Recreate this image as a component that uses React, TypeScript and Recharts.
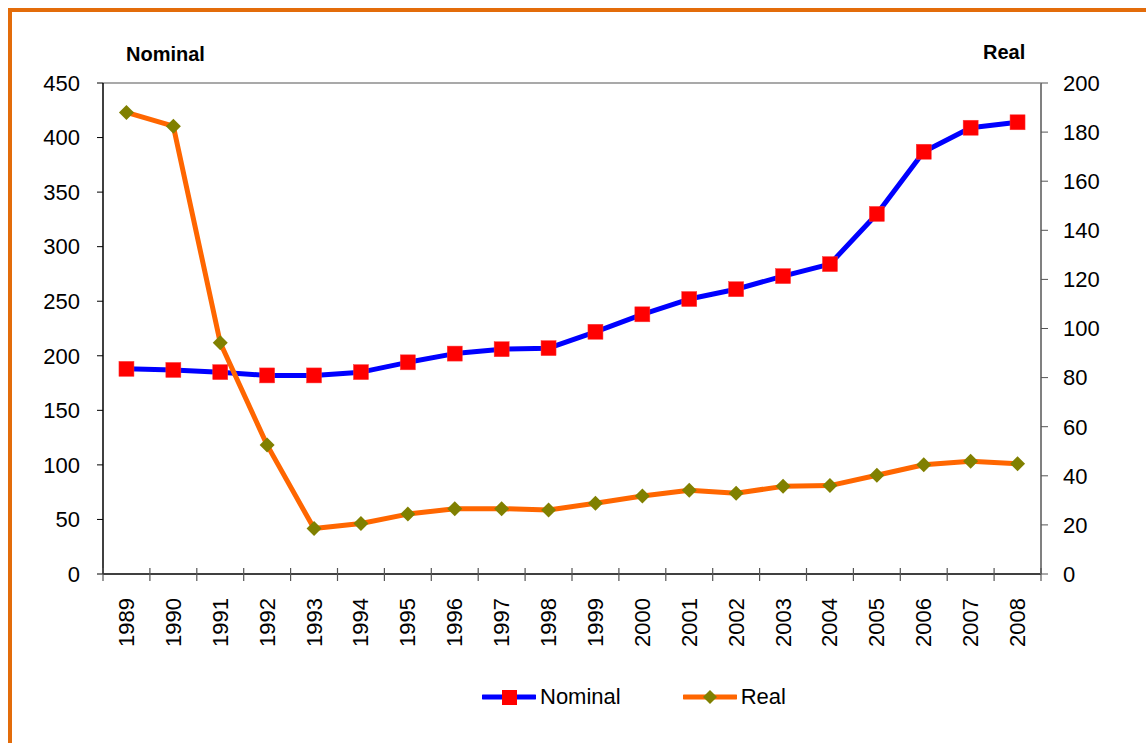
import React from 'react';
import { LineChart, Line, XAxis, YAxis, Legend, ReferenceLine } from 'recharts';

const years = [
  '1989', '1990', '1991', '1992', '1993', '1994', '1995', '1996', '1997', '1998',
  '1999', '2000', '2001', '2002', '2003', '2004', '2005', '2006', '2007', '2008',
];
const nominal = [188, 187, 185, 182, 182, 185, 194, 202, 206, 207, 222, 238, 252, 261, 273, 284, 330, 387, 409, 414];
const real = [188, 182.4, 94.2, 52.5, 18.5, 20.6, 24.4, 26.6, 26.6, 26.1, 28.8, 31.8, 34.1, 32.9, 35.7, 36, 40.2, 44.5, 45.9, 44.9];
const leftTicks = [0, 50, 100, 150, 200, 250, 300, 350, 400, 450];
const rightTicks = [0, 20, 40, 60, 80, 100, 120, 140, 160, 180, 200];

const data = years.map((year, i) => ({ year, Nominal: nominal[i], Real: real[i] }));

const FONT = '"Liberation Sans", Arial, sans-serif';
const W = 1146;
const H = 743;

function SquareDot(props: any) {
  const { cx, cy } = props;
  if (cx == null || cy == null) return null;
  return <rect x={cx - 7.5} y={cy - 7.5} width={15} height={15} fill="#ff0000" stroke="#ff3b3b" strokeWidth={0.5} />;
}

function DiamondDot(props: any) {
  const { cx, cy } = props;
  if (cx == null || cy == null) return null;
  const r = 7.5;
  return <polygon points={`${cx},${cy - r} ${cx + r},${cy} ${cx},${cy + r} ${cx - r},${cy}`} fill="#808000" />;
}

function YearTick(props: any) {
  const { x, y, payload } = props;
  const half = payload?.offset ?? 23.45;
  const last = payload?.index === years.length - 1;
  return (
    <g>
      <line x1={x - half} x2={x - half} y1={y - 6} y2={y + 7} stroke="#555" strokeWidth={1.2} />
      {last && <line x1={x + half} x2={x + half} y1={y - 6} y2={y + 7} stroke="#555" strokeWidth={1.2} />}
      <text
        x={x}
        y={y + 24}
        transform={`rotate(-90, ${x}, ${y + 24})`}
        textAnchor="end"
        dominantBaseline="central"
        fontSize={22}
        fontFamily={FONT}
        fill="#000"
      >
        {payload.value}
      </text>
    </g>
  );
}

function LegendContent() {
  const item = (label: string, color: string, marker: React.ReactNode, gap: number) => (
    <div style={{ display: 'flex', alignItems: 'center', marginRight: gap }}>
      <svg width={54} height={20}>
        <line x1={1} x2={53} y1={10} y2={10} stroke={color} strokeWidth={5} strokeLinecap="round" />
        {marker}
      </svg>
      <span style={{ fontSize: 22, fontFamily: FONT, color: '#000', marginLeft: 4 }}>{label}</span>
    </div>
  );
  return (
    <div style={{ display: 'flex', alignItems: 'center' }}>
      {item('Nominal', '#0000ff', <rect x={20} y={3} width={15} height={15} fill="#ff0000" />, 62)}
      {item('Real', '#ff6600', <polygon points="27,3 34,10 27,17 20,10" fill="#808000" />, 0)}
    </div>
  );
}

export default function App() {
  return (
    <div style={{ position: 'absolute', left: 0, top: 0, width: W, height: H, overflow: 'hidden', background: '#fff' }}>
      <div
        style={{
          position: 'absolute',
          left: 8,
          top: 8,
          width: 1200,
          height: 800,
          border: '4px solid #e36c0a',
          boxSizing: 'border-box',
        }}
      />
      <div style={{ position: 'absolute', left: 126, top: 43, fontFamily: FONT, fontWeight: 700, fontSize: 20 }}>Nominal</div>
      <div style={{ position: 'absolute', left: 983, top: 41, fontFamily: FONT, fontWeight: 700, fontSize: 20 }}>Real</div>
      <div style={{ position: 'absolute', left: 0, top: 0 }}>
        <LineChart width={W} height={H} data={data} margin={{ top: 83, right: 0, bottom: 0, left: 0 }}>
          <XAxis
            dataKey="year"
            xAxisId="x"
            scale="band"
            height={H - 574}
            tickLine={false}
            tickSize={0}
            tickMargin={0}
            axisLine={{ stroke: '#000', strokeWidth: 1.5 }}
            tick={<YearTick />}
            interval={0}
          />
          <YAxis
            yAxisId="left"
            width={103}
            domain={[0, 450]}
            ticks={leftTicks}
            interval={0}
            tickSize={6}
            tickMargin={17}
            axisLine={{ stroke: '#000', strokeWidth: 1.5 }}
            tickLine={{ stroke: '#000' }}
            tick={{ fontSize: 22, fontFamily: FONT, fill: '#000' }}
          />
          <YAxis
            yAxisId="right"
            orientation="right"
            width={W - 1041}
            domain={[0, 200]}
            ticks={rightTicks}
            interval={0}
            tickSize={7}
            tickMargin={15}
            axisLine={{ stroke: '#808080', strokeWidth: 2 }}
            tickLine={{ stroke: '#555' }}
            tick={{ fontSize: 22, fontFamily: FONT, fill: '#000' }}
          />
          <ReferenceLine yAxisId="left" xAxisId="x" y={450} stroke="#8c8c8c" strokeWidth={1.5} />
          <Line
            xAxisId="x"
            yAxisId="left"
            dataKey="Nominal"
            stroke="#0000ff"
            strokeWidth={5}
            strokeLinejoin="round"
            dot={<SquareDot />}
            activeDot={false}
            isAnimationActive={false}
          />
          <Line
            xAxisId="x"
            yAxisId="right"
            dataKey="Real"
            stroke="#ff6600"
            strokeWidth={5}
            strokeLinejoin="round"
            dot={<DiamondDot />}
            activeDot={false}
            isAnimationActive={false}
          />
          <Legend
            layout="horizontal"
            verticalAlign="middle"
            align="center"
            content={<LegendContent />}
            wrapperStyle={{ top: 684, left: 482, width: 'auto' }}
          />
        </LineChart>
      </div>
    </div>
  );
}
